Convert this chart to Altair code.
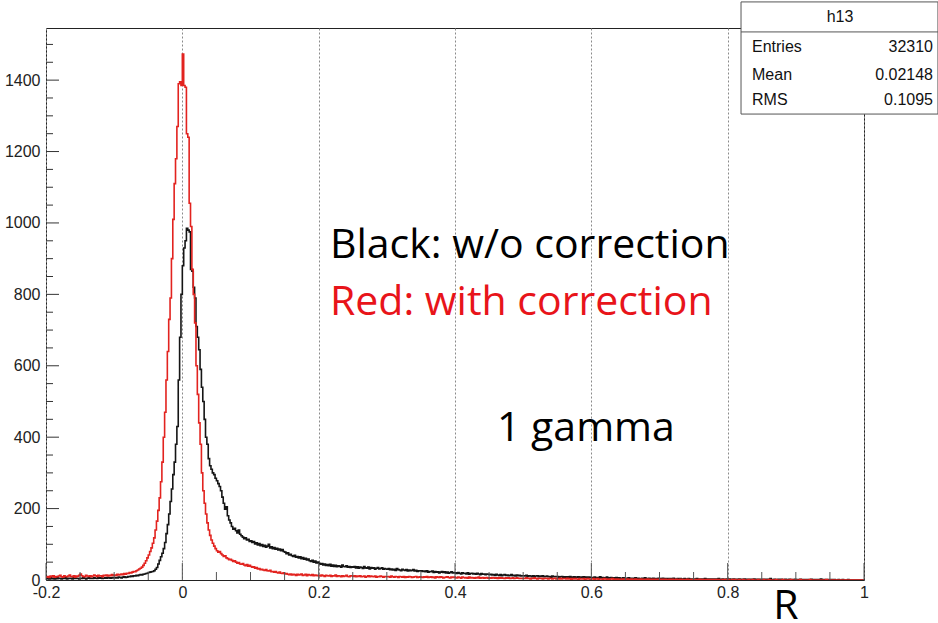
import altair as alt
import pandas as pd

# ---------------- data ----------------
BIN_LO = -0.2
BIN_W = 0.002   # 600 bins from -0.2 to 1.0

RED_COUNTS = [
    8, 10, 7, 11, 9, 12, 8, 10, 9, 11, 13, 9, 8, 12, 10, 9, 11, 14, 10, 9, 12, 8, 11, 10, 13,
    17, 12, 10, 9, 13, 11, 10, 12, 9, 11, 14, 12, 10, 13, 11, 12, 9, 13, 12, 14, 11, 13, 12, 15, 13,
    14, 13, 16, 14, 15, 17, 15, 18, 16, 19, 18, 21, 20, 22, 24, 23, 26, 28, 31, 33, 36, 41, 47, 54, 62,
    70, 80, 90, 103, 118, 140, 165, 195, 230, 275, 330, 400, 470, 560, 640, 730, 790, 900, 1010, 1110, 1180, 1270, 1390, 1395, 1385,
    1473, 1385, 1380, 1250, 1240, 1055, 990, 870, 800, 720, 600, 520, 440, 380, 300, 250, 215, 185, 160, 140, 125, 112, 103, 95, 88,
    82, 78, 80, 74, 70, 66, 68, 62, 60, 57, 58, 55, 52, 54, 50, 47, 49, 45, 44, 46, 42, 40, 43, 39, 41,
    38, 36, 37, 33, 35, 31, 32, 29, 30, 28, 27, 29, 26, 25, 27, 23, 24, 22, 24, 21, 20, 22, 19, 18, 20,
    17, 18, 16, 15, 17, 14, 16, 15, 13, 16, 14, 15, 17, 13, 14, 16, 12, 15, 14, 13, 15, 12, 14, 13, 12,
    13, 11, 14, 12, 10, 13, 12, 11, 13, 10, 12, 11, 14, 10, 12, 11, 9, 12, 10, 11, 13, 10, 9, 12, 11,
    10, 12, 9, 11, 10, 12, 9, 10, 11, 8, 10, 12, 9, 11, 10, 9, 11, 8, 10, 9, 11, 10, 8, 10, 9,
    9, 10, 8, 11, 9, 8, 10, 9, 7, 10, 9, 8, 10, 7, 9, 8, 10, 9, 7, 8, 9, 10, 7, 8, 9,
    8, 7, 9, 8, 10, 7, 8, 9, 7, 8, 6, 9, 8, 7, 9, 8, 6, 7, 8, 9, 7, 6, 8, 7, 8,
    7, 6, 8, 7, 5, 8, 7, 6, 7, 5, 8, 6, 7, 6, 5, 7, 6, 8, 5, 6, 7, 5, 6, 7, 5,
    6, 5, 7, 6, 5, 6, 4, 7, 5, 6, 5, 4, 6, 5, 6, 4, 5, 6, 4, 5, 6, 5, 4, 5, 4,
    5, 4, 6, 4, 5, 3, 5, 4, 6, 4, 3, 5, 4, 5, 3, 4, 5, 4, 3, 5, 4, 3, 4, 5, 3,
    4, 3, 5, 3, 4, 4, 3, 5, 3, 4, 2, 4, 3, 4, 3, 2, 4, 3, 3, 4, 2, 3, 4, 3, 2,
    3, 4, 2, 3, 4, 2, 3, 3, 2, 4, 3, 2, 3, 2, 3, 4, 2, 3, 2, 3, 2, 2, 3, 2, 3,
    2, 3, 2, 2, 3, 1, 2, 3, 2, 2, 1, 3, 2, 2, 1, 2, 3, 1, 2, 2, 1, 2, 1, 2, 2,
    1, 2, 2, 1, 2, 1, 1, 2, 1, 2, 1, 1, 2, 1, 1, 2, 1, 1, 0, 1, 2, 1, 1, 0, 1,
    1, 1, 0, 1, 2, 1, 0, 1, 1, 0, 1, 1, 0, 1, 0, 1, 1, 0, 1, 0, 0, 1, 0, 1, 0,
    1, 0, 0, 1, 0, 1, 0, 0, 1, 0, 0, 1, 0, 0, 0, 1, 0, 0, 1, 0, 0, 0, 1, 0, 0,
    0, 1, 0, 0, 0, 1, 0, 0, 0, 0, 1, 0, 0, 0, 0, 1, 0, 0, 0, 0, 0, 1, 0, 0, 0,
    0, 0, 0, 1, 0, 0, 0, 0, 0, 0, 1, 0, 0, 0, 0, 0, 0, 0, 0, 0, 0, 0, 1, 0, 0,
    0, 0, 0, 0, 0, 0, 0, 0, 0, 0, 0, 0, 0, 0, 0, 0, 0, 0, 0, 0, 0, 0, 0, 0, 0,
]

BLACK_COUNTS = [
    4, 5, 3, 6, 4, 5, 3, 4, 6, 5, 4, 3, 5, 4, 6, 3, 5, 4, 5, 3, 6, 4, 5, 4, 3,
    5, 4, 6, 5, 3, 5, 6, 4, 5, 4, 6, 5, 4, 7, 5, 6, 4, 5, 6, 5, 7, 6, 5, 6, 7,
    6, 7, 6, 8, 7, 6, 8, 9, 7, 8, 10, 9, 11, 10, 12, 11, 13, 12, 14, 15, 14, 16, 17, 18, 19,
    21, 22, 23, 24, 26, 30, 35, 45, 55, 65, 75, 88, 105, 130, 155, 185, 220, 255, 295, 330, 380, 430, 560, 680, 800,
    880, 930, 950, 985, 980, 975, 870, 865, 820, 790, 710, 680, 645, 590, 540, 500, 450, 400, 380, 340, 320, 310, 300, 295, 285,
    278, 270, 262, 250, 232, 215, 198, 205, 180, 168, 160, 150, 142, 145, 138, 132, 140, 128, 124, 120, 116, 118, 112, 114, 108,
    110, 105, 108, 101, 104, 98, 102, 96, 99, 94, 97, 92, 95, 100, 90, 93, 88, 91, 86, 89, 84, 87, 82, 85, 80,
    78, 74, 76, 70, 72, 68, 66, 69, 64, 66, 62, 65, 60, 63, 58, 61, 56, 59, 54, 52, 55, 50, 53, 48, 50,
    47, 44, 46, 42, 45, 41, 43, 40, 44, 39, 42, 38, 41, 37, 40, 39, 36, 42, 38, 37, 40, 36, 38, 35, 37,
    36, 38, 34, 37, 33, 36, 35, 32, 38, 34, 33, 36, 31, 35, 33, 34, 30, 33, 35, 31, 32, 34, 30, 32, 31,
    30, 32, 29, 31, 28, 30, 27, 32, 29, 28, 26, 30, 28, 27, 29, 25, 28, 26, 27, 29, 25, 27, 24, 26, 25,
    26, 24, 25, 23, 26, 22, 24, 23, 25, 21, 24, 22, 23, 20, 22, 24, 21, 23, 20, 22, 19, 21, 23, 20, 21,
    20, 18, 21, 19, 17, 20, 18, 19, 17, 20, 16, 18, 19, 17, 18, 16, 19, 17, 15, 18, 16, 17, 15, 17, 16,
    15, 16, 14, 15, 13, 16, 14, 13, 15, 12, 14, 15, 13, 14, 12, 13, 15, 12, 13, 11, 14, 12, 13, 11, 12,
    12, 11, 13, 10, 12, 11, 9, 12, 10, 11, 12, 9, 11, 10, 12, 9, 10, 11, 9, 10, 8, 11, 9, 10, 9,
    10, 8, 9, 10, 8, 9, 7, 9, 8, 10, 7, 8, 9, 7, 8, 9, 6, 8, 7, 9, 7, 8, 6, 8, 7,
    7, 6, 8, 6, 7, 5, 9, 6, 7, 5, 6, 8, 5, 6, 7, 5, 6, 4, 7, 5, 6, 5, 4, 6, 5,
    5, 4, 6, 5, 4, 5, 3, 6, 4, 5, 4, 3, 5, 4, 6, 3, 4, 5, 4, 3, 5, 4, 3, 4, 5,
    4, 3, 5, 3, 4, 3, 4, 2, 4, 3, 5, 3, 2, 4, 3, 4, 2, 3, 4, 3, 2, 4, 3, 2, 3,
    3, 2, 4, 3, 2, 3, 2, 3, 4, 2, 3, 2, 3, 1, 3, 2, 3, 2, 4, 2, 1, 3, 2, 2, 3,
    2, 3, 2, 1, 3, 2, 2, 1, 3, 2, 1, 2, 3, 1, 2, 2, 1, 2, 1, 3, 2, 1, 2, 1, 2,
    1, 2, 1, 2, 1, 2, 4, 1, 1, 2, 1, 1, 2, 1, 2, 1, 0, 2, 1, 1, 2, 1, 0, 1, 2,
    1, 1, 0, 2, 1, 1, 0, 1, 1, 0, 1, 2, 1, 0, 1, 1, 0, 1, 3, 1, 0, 1, 0, 1, 1,
    0, 1, 0, 1, 0, 0, 1, 0, 0, 1, 0, 0, 0, 1, 0, 0, 0, 0, 0, 0, 0, 0, 0, 0, 0,
]

X_MAJOR = [-0.2, 0.0, 0.2, 0.4, 0.6, 0.8, 1.0]
X_MINOR = [-0.15, -0.1, -0.05, 0.05, 0.1, 0.15, 0.25, 0.3, 0.35, 0.45, 0.5, 0.55,
           0.65, 0.7, 0.75, 0.85, 0.9, 0.95]
Y_MAJOR = [0, 200, 400, 600, 800, 1000, 1200, 1400]
Y_MINOR = [50, 100, 150, 250, 300, 350, 450, 500, 550, 650, 700, 750, 850, 900, 950,
           1050, 1100, 1150, 1250, 1300, 1350, 1450, 1500]

STATS_TITLE = "h13"
STATS_NAMES = ["Entries", "Mean", "RMS"]
STATS_VALUES = ["32310", "0.02148", "0.1095"]

ANNOTATIONS = ["Black: w/o correction", "Red: with correction", "1 gamma"]
X_TITLE = "R"

# ---------------- build ----------------
def step_frame(counts):
    n = len(counts)
    edges = [BIN_LO + BIN_W * i for i in range(n + 1)]
    vals = list(counts) + [counts[-1]]
    return pd.DataFrame({"R": edges, "count": vals})

red_df = step_frame(RED_COUNTS)
black_df = step_frame(BLACK_COUNTS)

W, H = 818, 552
x_scale = alt.Scale(domain=[-0.2, 1.0], nice=False, zero=False)
y_scale = alt.Scale(domain=[0, 1546], nice=False, zero=False)
FONT = "Liberation Sans"

x_axis = alt.Axis(values=X_MAJOR, grid=True, gridDash=[2, 2], gridColor="#8a8a8a",
                  gridWidth=1, ticks=False, domain=False, labelFont=FONT,
                  labelFontSize=16, labelColor="#222", labelPadding=4,
                  labelFlush=False, labelOverlap=False,
                  labelExpr="toString(round(datum.value*10)/10)", title=None)
y_axis = alt.Axis(values=Y_MAJOR, grid=False, ticks=False, domain=False,
                  labelFont=FONT, labelFontSize=16, labelColor="#222",
                  labelPadding=6, labelOverlap=False, format="d", title=None)

def X(field):
    return alt.X(field, scale=x_scale, axis=x_axis)

def Y(field):
    return alt.Y(field, scale=y_scale, axis=y_axis)

black_line = alt.Chart(black_df).mark_line(
    interpolate="step-after", color="#151515", strokeWidth=1.6, clip=True
).encode(x=X("R:Q"), y=Y("count:Q"))
red_line = alt.Chart(red_df).mark_line(
    interpolate="step-after", color="#e2231f", strokeWidth=1.6, clip=True
).encode(x=X("R:Q"), y=Y("count:Q"))

# inward ticks (ROOT style)
def yticks(vals, length):
    return alt.Chart(pd.DataFrame({"v": vals})).mark_rule(color="#333", strokeWidth=1).encode(
        y=Y("v:Q"), x=alt.value(0), x2=alt.value(length))

def xticks(vals, length):
    return alt.Chart(pd.DataFrame({"v": vals})).mark_rule(color="#555", strokeWidth=1).encode(
        x=X("v:Q"), y=alt.value(H), y2=alt.value(H - length))

ticks = [yticks(Y_MAJOR, 13), yticks(Y_MINOR, 7), xticks(X_MAJOR, 17), xticks(X_MINOR, 8)]

# annotations (data coordinates, alphabetic baseline)
ann_rows = [
    (ANNOTATIONS[0], 0.2166, 902, "#000000", "left"),
    (ANNOTATIONS[1], 0.2166, 742, "#e8141a", "left"),
    (ANNOTATIONS[2], 0.4616, 389, "#000000", "left"),
    (X_TITLE, 0.8856, -109, "#000000", "center"),
]
ann_layers = []
for text, xv, yv, col, al in ann_rows:
    ann_layers.append(
        alt.Chart(pd.DataFrame({"text": [text], "x": [xv], "y": [yv]})).mark_text(
            font="Open Sans", fontSize=41, color=col, align=al, baseline="alphabetic"
        ).encode(x=X("x:Q"), y=Y("y:Q"), text="text:N")
    )

# stats box
box = alt.Chart(pd.DataFrame({"x": [0.8196], "x2": [1.1085], "y": [1619], "y2": [1305]})).mark_rect(
    fill="white", stroke="#555", strokeWidth=1).encode(
    x=X("x:Q"), x2="x2:Q", y=Y("y:Q"), y2="y2:Q")
sep = alt.Chart(pd.DataFrame({"x": [0.8196], "x2": [1.1085], "y": [1535]})).mark_rule(
    color="#555", strokeWidth=1).encode(x=X("x:Q"), x2="x2:Q", y=Y("y:Q"))
title_txt = alt.Chart(pd.DataFrame({"t": [STATS_TITLE], "x": [0.9648], "y": [1577]})).mark_text(
    font=FONT, fontSize=16, color="#111", align="center", baseline="middle").encode(
    x=X("x:Q"), y=Y("y:Q"), text="t:N")
rows_y = [1493, 1414, 1344]
names_txt = alt.Chart(pd.DataFrame({"t": STATS_NAMES, "x": [0.8357] * 3, "y": rows_y})).mark_text(
    font=FONT, fontSize=16, color="#111", align="left", baseline="middle").encode(
    x=X("x:Q"), y=Y("y:Q"), text="t:N")
vals_txt = alt.Chart(pd.DataFrame({"t": STATS_VALUES, "x": [1.1012] * 3, "y": rows_y})).mark_text(
    font=FONT, fontSize=16, color="#111", align="right", baseline="middle").encode(
    x=X("x:Q"), y=Y("y:Q"), text="t:N")

chart = alt.layer(
    black_line, red_line, *ticks, *ann_layers, box, sep, title_txt, names_txt, vals_txt
).properties(
    width=W, height=H,
    padding={"left": 46, "top": 28, "right": 74, "bottom": 43},
    autosize=alt.AutoSizeParams(type="none"),
    background="white",
).configure_view(stroke="#222", strokeWidth=1)

chart.save("out.html", embed_options={"renderer": "svg", "actions": False})
